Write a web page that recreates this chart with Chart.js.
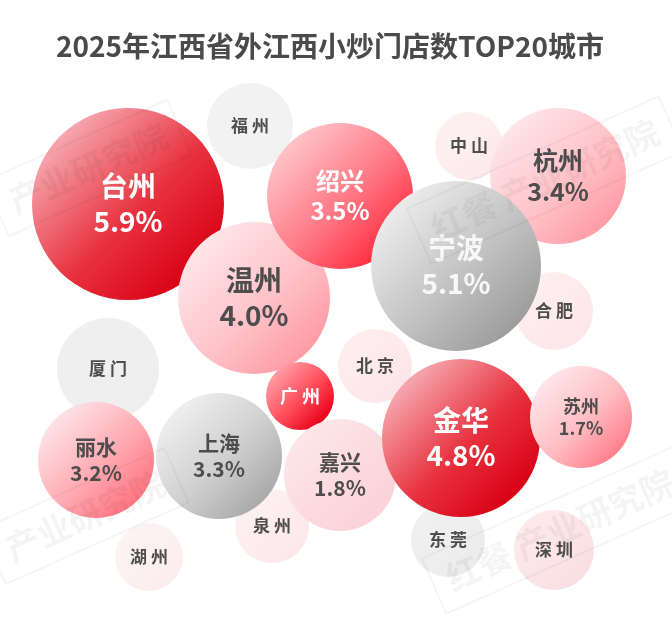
<!DOCTYPE html>
<html>
<head>
<meta charset="utf-8">
<script src="https://cdn.jsdelivr.net/npm/chart.js@4.4.1/dist/chart.umd.min.js"></script>
<style>
    html, body { margin: 0; padding: 0; background: #ffffff; }
    #wrap { position: relative; width: 672px; height: 618px; }
    #title {
        position: absolute; left: 0; top: 27px; width: 660px; text-align: center;
        font-family: "Noto Sans CJK SC", sans-serif; font-weight: bold; font-size: 28px;
        color: #4a4a4a; line-height: 36px;
    }
</style>
</head>
<body>
<div id="wrap">
    <canvas id="bubbleChart" width="672" height="618"></canvas>
    <div id="title">2025年江西省外江西小炒门店数TOP20城市</div>
</div>
<script>
/****************************** data ********************************/
// cities in drawing order (back to front)
const cities = ['福州', '中山', '合肥', '厦门', '北京', '泉州', '湖州', '东莞', '深圳',
    '台州', '杭州', '温州', '绍兴', '宁波', '广州', '上海', '丽水', '嘉兴', '金华', '苏州'];
// share of stores, % (null = not labelled)
const shares = [null, null, null, null, null, null, null, null, null,
    5.9, 3.4, 4.0, 3.5, 5.1, null, 3.3, 3.2, 1.8, 4.8, 1.7];

// bubble layout (chart units)
const xPos = [250, 469, 554, 108, 375, 272, 149, 448, 554, 128, 558, 254, 340, 456, 300, 219, 96, 340, 461, 581];
const yPos = [126, 146, 311, 369, 366, 526, 557, 540, 550, 204, 176, 298, 196, 266, 396, 456, 460, 475, 438, 417];
const bubbleR = [43, 34, 39, 51, 37, 37, 34, 37, 40, 96, 68, 76, 73, 85, 34, 63, 58, 56, 79, 51];

/****************************** styles ********************************/
const RED = ['#f6a9b0', '#e8323f', '#d80014'];
const styles = {
    '台州': { stops: RED, text: '#ffffff', size: 28 },
    '金华': { stops: RED, text: '#ffffff', size: 28 },
    '宁波': { stops: ['#ececec', '#c2c2c2', '#9c9c9c'], text: '#f8f8f8', size: 28 },
    '温州': { stops: ['#fde6e9', '#ffc3c9', '#ff9aa4'], text: '#4d4d4d', size: 28 },
    '绍兴': { stops: ['#ffc4c9', '#ff7784', '#ff2a3c'], text: '#ffffff', size: 24 },
    '杭州': { stops: ['#fde6e9', '#ffc3c9', '#ff9ba5'], text: '#4d4d4d', size: 25 },
    '上海': { stops: ['#efefef', '#cfcfcf', '#a9a9a9'], text: '#4d4d4d', size: 21 },
    '丽水': { stops: ['#fde3e6', '#ffaab2', '#ff7481'], text: '#4d4d4d', size: 21 },
    '嘉兴': { stops: ['#fde7e9', '#fcdade', '#fbd2d7'], text: '#4d4d4d', size: 21 },
    '苏州': { stops: ['#ffe6e9', '#ffbcc2', '#ff7e8a'], text: '#4d4d4d', size: 18 },
    '广州': { stops: ['#ff9ea8', '#ff4a58', '#e80018'], text: '#ffffff', size: 18 },
    '福州': { stops: ['#f2f2f2', '#f2f2f2', '#f1f1f1'], text: '#4d4d4d', size: 17 },
    '厦门': { stops: ['#efefef', '#efefef', '#eeeeee'], text: '#4d4d4d', size: 17 },
    '东莞': { stops: ['#f0f0f0', '#eeeeee', '#ececec'], text: '#4d4d4d', size: 17 },
    '中山': { stops: ['#fdf0f1', '#fdedef', '#fce9eb'], text: '#4d4d4d', size: 17 },
    '合肥': { stops: ['#fdeff1', '#fdeaec', '#fce6e8'], text: '#4d4d4d', size: 17 },
    '北京': { stops: ['#fdeef0', '#fde9eb', '#fce5e8'], text: '#4d4d4d', size: 17 },
    '泉州': { stops: ['#fdf0f2', '#fdecee', '#fce8ea'], text: '#4d4d4d', size: 17 },
    '湖州': { stops: ['#fdf3f4', '#fdf0f1', '#fcedef'], text: '#4d4d4d', size: 17 },
    '深圳': { stops: ['#fdeaec', '#fbe4e7', '#fadfe2'], text: '#4d4d4d', size: 17 }
};
const FONT = '"Noto Sans CJK SC", sans-serif';

function bubbleFill(ctx) {
    if (ctx.type !== 'data') return '#eeeeee';
    const chart = ctx.chart;
    const raw = ctx.raw;
    const st = styles[cities[ctx.dataIndex]];
    const px = chart.scales.x ? chart.scales.x.getPixelForValue(raw.x) : NaN;
    const py = chart.scales.y ? chart.scales.y.getPixelForValue(raw.y) : NaN;
    if (!Number.isFinite(px) || !Number.isFinite(py)) return st.stops[1];
    const k = raw.r * 0.72;
    const g = chart.ctx.createLinearGradient(px - k, py - k, px + k, py + k);
    g.addColorStop(0, st.stops[0]);
    g.addColorStop(0.55, st.stops[1]);
    g.addColorStop(1, st.stops[2]);
    return g;
}

/****************************** labels + watermark ********************************/
const bubbleLabels = {
    id: 'bubbleLabels',
    afterDatasetsDraw(chart) {
        const c = chart.ctx;
        const meta = chart.getDatasetMeta(0);
        c.save();
        c.textAlign = 'center';
        c.textBaseline = 'middle';
        meta.data.forEach((pt, i) => {
            const st = styles[cities[i]];
            c.fillStyle = st.text;
            c.font = 'bold ' + st.size + 'px ' + FONT;
            if (shares[i] === null) {
                c.fillText(cities[i].split('').join(' '), pt.x, pt.y);
            } else {
                const off = st.size * 0.63;
                c.fillText(cities[i], pt.x, pt.y - off);
                c.fillText(shares[i].toFixed(1) + '%', pt.x, pt.y + off);
            }
        });
        c.restore();
    },
    afterDraw(chart) {
        // faint "红餐产业研究院" watermarks
        const c = chart.ctx;
        const marks = [
            { x: 88, y: 168, t: '产业研究院' },
            { x: 545, y: 180, t: '红餐 产业研究院' },
            { x: 85, y: 516, t: '产业研究院' },
            { x: 560, y: 530, t: '红餐 产业研究院' }
        ];
        c.save();
        c.textAlign = 'center';
        c.textBaseline = 'middle';
        c.font = 'bold 34px ' + FONT;
        marks.forEach(m => {
            c.save();
            c.translate(m.x, m.y);
            c.rotate(-0.42);
            c.fillStyle = 'rgba(0,0,0,0.045)';
            c.fillText(m.t, 0, 0);
            c.strokeStyle = 'rgba(0,0,0,0.04)';
            c.lineWidth = 2;
            const w = c.measureText(m.t).width + 30;
            c.strokeRect(-w / 2, -30, w, 60);
            c.restore();
        });
        c.restore();
    }
};

/****************************** chart ********************************/
new Chart(document.getElementById('bubbleChart'), {
    type: 'bubble',
    data: {
        labels: cities,
        datasets: [{
            data: cities.map((c, i) => ({ x: xPos[i], y: yPos[i], r: bubbleR[i] })),
            backgroundColor: bubbleFill,
            borderWidth: 0,
            hoverRadius: 0,
            clip: false
        }]
    },
    options: {
        responsive: false,
        animation: false,
        layout: { padding: 0, autoPadding: false },
        scales: {
            x: { type: 'linear', min: 0, max: 672, display: false },
            y: { type: 'linear', min: 0, max: 618, reverse: true, display: false }
        },
        plugins: {
            legend: { display: false },
            tooltip: { enabled: false }
        }
    },
    plugins: [bubbleLabels]
});
</script>
</body>
</html>
